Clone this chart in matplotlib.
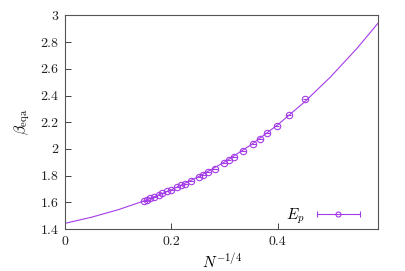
import matplotlib
matplotlib.use("Agg")
import matplotlib.pyplot as plt
from matplotlib import ticker
from matplotlib.legend_handler import HandlerErrorbar

plt.rcParams["font.family"] = "cmr10"
plt.rcParams["mathtext.fontset"] = "cm"
plt.rcParams["axes.formatter.use_mathtext"] = True

# Data points (N^{-1/4}, beta_eqa)
x_pts = [0.149, 0.154, 0.160, 0.168, 0.176, 0.182, 0.191, 0.199, 0.211, 0.218,
         0.226, 0.237, 0.252, 0.260, 0.269, 0.282, 0.299, 0.308, 0.318, 0.335,
         0.354, 0.367, 0.380, 0.398, 0.421, 0.452]
y_pts = [1.611, 1.619, 1.632, 1.642, 1.654, 1.667, 1.682, 1.694, 1.712, 1.727,
         1.740, 1.762, 1.787, 1.802, 1.825, 1.853, 1.891, 1.915, 1.943, 1.986,
         2.039, 2.074, 2.119, 2.175, 2.253, 2.371]
x_err = [0.005] * len(x_pts)

# Fitted curve
x_fit = [0.0, 0.05, 0.1, 0.15, 0.2, 0.25, 0.3, 0.35, 0.4, 0.45, 0.5, 0.55, 0.59]
y_fit = [1.443, 1.489, 1.545, 1.613, 1.694, 1.790, 1.902, 2.031, 2.180, 2.349,
         2.540, 2.755, 2.945]

color = "#a43be8"

fig = plt.figure(figsize=(4.06, 2.71), dpi=100)
ax = fig.add_axes([0.161, 0.155, 0.771, 0.788])

ax.plot(x_fit, y_fit, color=color, lw=0.8)
ax.errorbar(x_pts, y_pts, xerr=x_err, fmt="o", ms=4.6, mfc="none", mec=color,
            mew=0.8, ecolor=color, elinewidth=0.8, capsize=0)

# legend proxy (nothing drawn inside the axes)
proxy = ax.errorbar([float("nan")], [float("nan")], xerr=[1.0], fmt="o", ms=3.6,
                    mfc="none", mec=color, mew=0.8, ecolor=color, elinewidth=0.8,
                    capsize=2.0, label="$E_p$")

ax.set_xlim(0, 0.59)
ax.set_ylim(1.4, 3.0)
ax.set_xticks([0, 0.2, 0.4])
ax.set_yticks([1.4, 1.6, 1.8, 2.0, 2.2, 2.4, 2.6, 2.8, 3.0])
ax.xaxis.set_major_formatter(ticker.FuncFormatter(lambda v, p: "%g" % v))
ax.yaxis.set_major_formatter(ticker.FuncFormatter(lambda v, p: "%g" % v))
ax.tick_params(direction="in", length=4, width=0.6, labelsize=10, colors="#222222",
               top=False, right=False, pad=5)
for s in ax.spines.values():
    s.set_color("#555555")
    s.set_linewidth(0.8)

ax.set_xlabel("$N^{-1/4}$", fontsize=11, labelpad=3)
ax.set_ylabel(r"$\beta_{\rm eqa}$", fontsize=11, labelpad=6)

ax.legend(handles=[proxy], loc="lower right", frameon=False, markerfirst=False,
          handlelength=3.0, handletextpad=0.7, fontsize=11, borderaxespad=0.2,
          bbox_to_anchor=(0.975, -0.03),
          handler_map={type(proxy): HandlerErrorbar(xerr_size=1.4)})

fig.savefig("out.png", dpi=100)
